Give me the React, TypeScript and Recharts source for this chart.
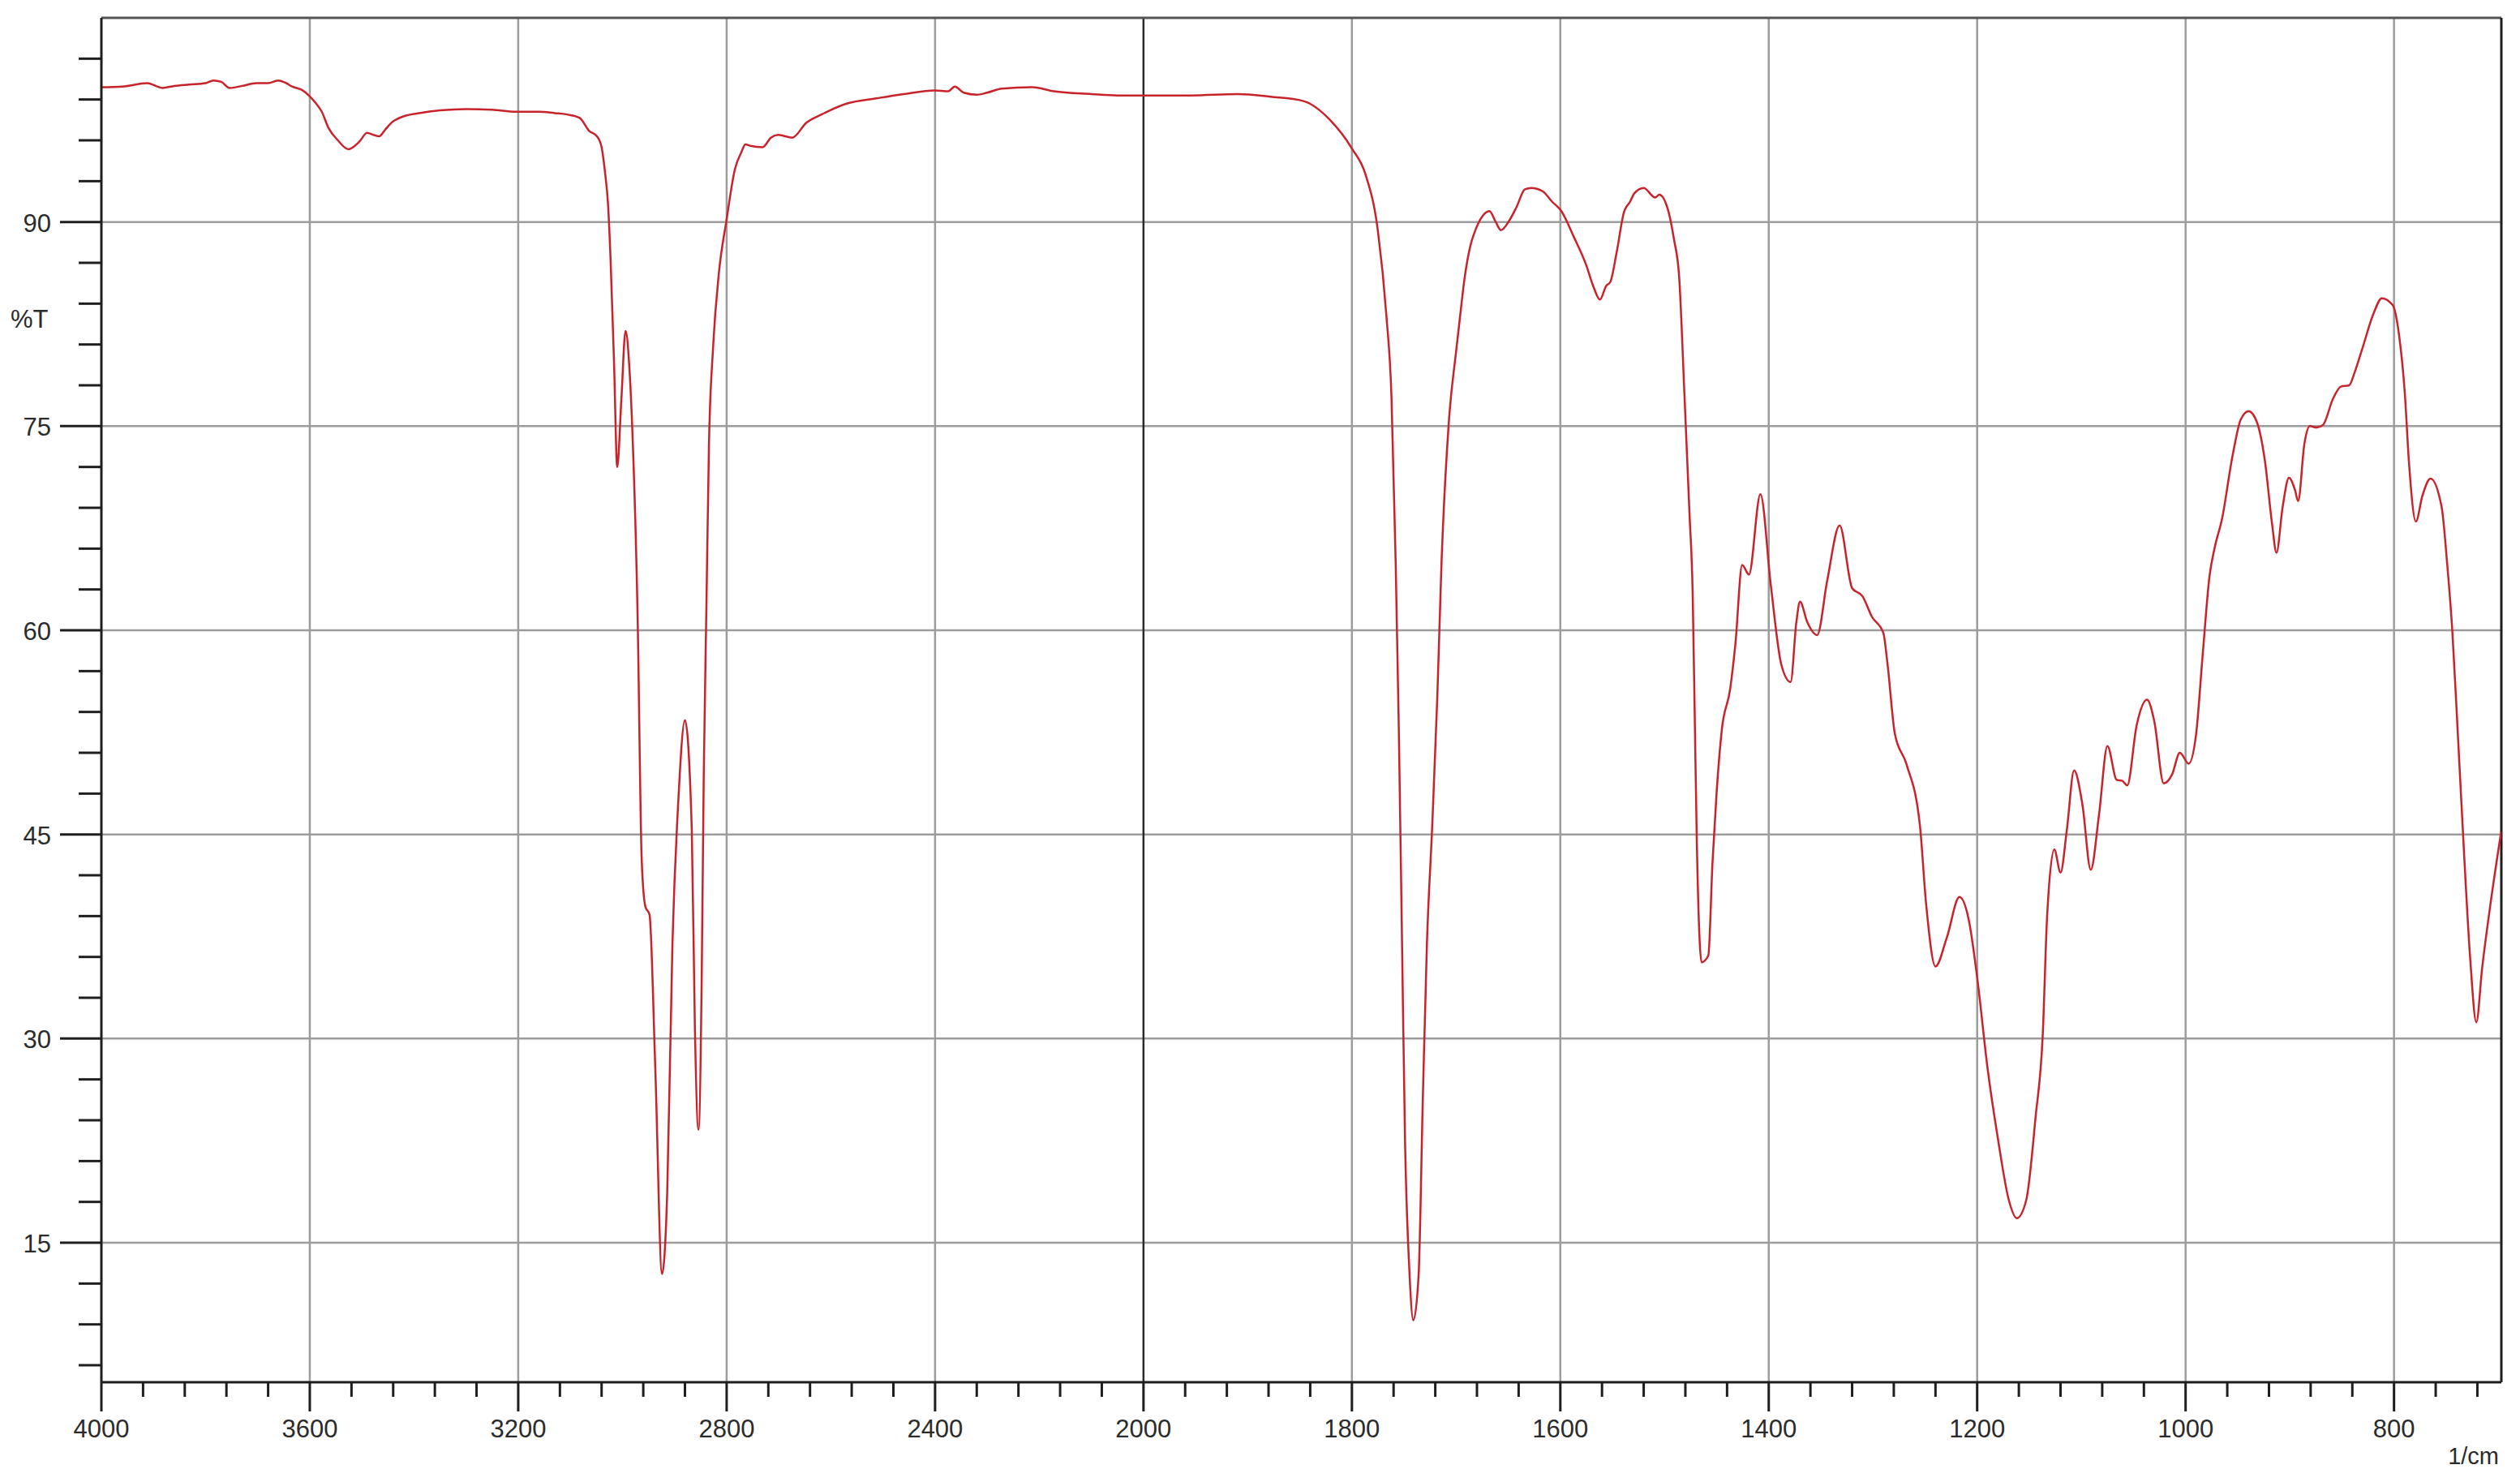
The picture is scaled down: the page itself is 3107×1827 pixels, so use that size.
import { Line, LineChart, ReferenceLine, XAxis, YAxis } from 'recharts';

// IR spectrum, wavenumber (1/cm) vs transmittance (%T)
const wavenumbers = [
  4000, 3960, 3912, 3883, 3860, 3832, 3800, 3785, 3770, 3754, 3730, 3702, 3680, 3661, 3645, 3634,
  3615, 3602, 3590, 3577, 3564, 3546, 3526, 3505, 3490, 3478, 3467, 3455, 3443, 3417, 3390, 3350,
  3300, 3250, 3204, 3160, 3130, 3106, 3082, 3064, 3049, 3040, 3033, 3028, 3023, 3016, 3010, 3002,
  2994, 2987, 2981, 2971, 2963, 2956, 2948, 2937, 2924, 2914, 2904, 2893, 2880, 2867, 2861, 2854,
  2848, 2844, 2839, 2834, 2826, 2815, 2800, 2784, 2772, 2764, 2755, 2731, 2715, 2701, 2674, 2647,
  2618, 2570, 2510, 2460, 2400, 2375, 2362, 2345, 2320, 2300, 2272, 2213, 2172, 2100, 2050, 2000,
  1955, 1909, 1878, 1847, 1821, 1800, 1787, 1775, 1767, 1762, 1758, 1755, 1752, 1749, 1745, 1741,
  1736, 1732, 1728, 1723, 1718, 1714, 1707, 1700, 1696, 1692, 1686, 1682, 1675, 1668, 1662, 1657,
  1649, 1642, 1634, 1628, 1617, 1608, 1599, 1587, 1575, 1568, 1562, 1556, 1552, 1546, 1539, 1533,
  1529, 1520, 1509, 1505, 1496, 1491, 1486, 1481, 1476, 1473, 1471, 1469, 1466.5, 1464.5, 1458, 1454,
  1450, 1445, 1437, 1432, 1425.5, 1419, 1408, 1398, 1388, 1379, 1373.5, 1370, 1363, 1353.5, 1344, 1332,
  1320, 1310, 1301, 1290, 1286, 1279, 1268, 1255, 1249, 1240, 1229, 1217, 1208, 1200, 1190, 1180,
  1169.5, 1162, 1153, 1144, 1137, 1133, 1126, 1120, 1114, 1107, 1099, 1091, 1083, 1075, 1066, 1061,
  1056, 1047, 1037, 1030, 1021, 1013, 1005.5, 997, 990, 983.6, 977, 972, 965, 955, 947, 939.5,
  931.6, 923.8, 917, 912.8, 906.8, 900.8, 895, 892, 886, 880.8, 874, 868, 858.6, 851, 843, 838,
  830, 819.5, 811.7, 801.3, 795, 789.6, 785.7, 779, 772.7, 765, 754.4, 749, 744, 739, 733.6, 727,
  721, 715.4, 707.6, 697.2,
];

const transmittance = [
  99.9, 99.95, 100.2, 99.85, 100.0, 100.1, 100.2, 100.4, 100.3, 99.85, 100.0, 100.2, 100.2, 100.4, 100.2, 99.95,
  99.7, 99.3, 98.8, 98.1, 96.9, 96.0, 95.35, 95.9, 96.55, 96.4, 96.3, 96.8, 97.3, 97.8, 98.0, 98.2,
  98.3, 98.25, 98.1, 98.1, 98.0, 97.9, 97.65, 96.7, 96.3, 95.5, 93.5, 91.5, 87.5, 79.5, 72.0, 77.0,
  82.0, 79.5, 74.7, 61.3, 43.1, 39.7, 39.1, 27.9, 12.7, 18.75, 37.0, 47.3, 53.4, 45.5, 30.9, 23.3,
  34.0, 49.2, 61.3, 73.5, 80.8, 86.2, 90.2, 93.9, 95.1, 95.7, 95.6, 95.5, 96.2, 96.4, 96.2, 97.3,
  97.9, 98.7, 99.1, 99.4, 99.67, 99.6, 99.95, 99.5, 99.35, 99.5, 99.8, 99.9, 99.6, 99.4, 99.3, 99.3,
  99.3, 99.4, 99.2, 98.9, 97.5, 95.4, 93.5, 89.3, 83.2, 77.1, 65.0, 52.8, 37.6, 22.4, 13.2, 9.3,
  12.6, 25.4, 37.0, 45.5, 55.2, 65.0, 75.3, 80.5, 83.2, 85.8, 88.35, 89.3, 90.4, 90.8, 90.0, 89.4,
  90.1, 91.1, 92.4, 92.5, 92.26, 91.5, 90.8, 88.9, 86.8, 85.2, 84.3, 85.3, 85.6, 87.75, 90.7, 91.5,
  92.1, 92.5, 91.8, 92.0, 90.7, 88.75, 86.0, 77.5, 68.5, 62.7, 53.6, 44.4, 37.5, 35.6, 36.1, 42.9,
  48.1, 52.7, 55.7, 59.0, 64.8, 64.1, 70.0, 63.3, 57.5, 56.2, 60.6, 62.1, 60.6, 59.65, 63.6, 67.7,
  63.1, 62.5, 61.0, 59.8, 57.5, 52.4, 50.2, 45.7, 39.9, 35.3, 37.45, 40.4, 38.7, 34.5, 27.8, 22.6,
  18.1, 16.8, 18.1, 24.2, 30.4, 38.8, 43.9, 42.2, 45.3, 49.7, 47.2, 42.4, 46.5, 51.5, 49.0, 48.95,
  48.6, 53.0, 54.9, 53.3, 48.75, 49.4, 51.0, 50.2, 52.3, 58.2, 64.0, 66.1, 68.2, 72.8, 75.5, 76.1,
  75.3, 72.4, 67.8, 65.7, 69.1, 71.2, 70.3, 69.5, 73.7, 75.0, 74.9, 75.1, 77.0, 77.9, 78.0, 78.9,
  80.8, 83.3, 84.4, 83.9, 81.6, 77.4, 72.4, 68.0, 69.9, 71.15, 69.1, 64.9, 59.9, 52.75, 44.8, 36.0,
  31.2, 35.2, 39.8, 45.2,
];

const xLabels = [4000, 3600, 3200, 2800, 2400, 2000, 1800, 1600, 1400, 1200, 1000, 800];
const yLabels = [15, 30, 45, 60, 75, 90];

// the x axis is compressed by 2 above 2000 1/cm
const BREAK = 2000;
const toT = (wn: number) => (wn > BREAK ? BREAK + (wn - BREAK) / 2 : wn);
const fromT = (t: number) => (t > BREAK ? BREAK + (t - BREAK) * 2 : t);

const X_MIN = 697;
const X_MAX = 4000;
const Y_MIN = 4.75;
const Y_MAX = 105;

const data = wavenumbers.map((wn, i) => ({ t: toT(wn), y: transmittance[i] }));

const xTicks: number[] = [];
for (let t = toT(X_MAX); t >= 720; t -= 40) xTicks.push(t);
const yTicks: number[] = [];
for (let v = 6; v <= 102; v += 3) yTicks.push(v);

const FONT = '"Liberation Sans", Arial, sans-serif';
const INK = '#1e1e1e';
const TEXT = '#2b2b2b';
const GRID = '#9c9c9c';

function XTick(props: any) {
  const { x, y, payload } = props;
  const wn = Math.round(fromT(payload.value));
  const major = xLabels.includes(wn);
  return (
    <g>
      <line x1={x} x2={x} y1={y} y2={y + (major ? 36 : 18)} stroke={INK} strokeWidth={3} />
      {major && (
        <text x={x} y={y + 68} textAnchor="middle" fontSize={31} fill={TEXT} fontFamily={FONT}>
          {wn}
        </text>
      )}
    </g>
  );
}

function YTick(props: any) {
  const { x, y, payload } = props;
  const major = yLabels.includes(payload.value);
  return (
    <g>
      <line x1={x - (major ? 51 : 28)} x2={x} y1={y} y2={y} stroke={INK} strokeWidth={3} />
      {major && (
        <text x={x - 62} y={y + 12} textAnchor="end" fontSize={31} fill={TEXT} fontFamily={FONT}>
          {payload.value}
        </text>
      )}
    </g>
  );
}

export default function App() {
  return (
    <div style={{ position: 'absolute', left: 0, top: 0, width: 3107, height: 1827, background: '#fff' }}>
      <LineChart width={3107} height={1827} data={data} margin={{ top: 22, right: 23, bottom: 0, left: 0 }}>
        <XAxis
          dataKey="t"
          type="number"
          domain={[toT(X_MIN), toT(X_MAX)]}
          reversed
          allowDataOverflow
          ticks={xTicks}
          interval={0}
          height={123}
          tickSize={0}
          tickMargin={0}
          tickLine={false}
          axisLine={{ stroke: INK, strokeWidth: 3 }}
          tick={(p: any) => <XTick {...p} />}
        />
        <YAxis
          type="number"
          domain={[Y_MIN, Y_MAX]}
          allowDataOverflow
          ticks={yTicks}
          interval={0}
          width={125}
          tickSize={0}
          tickMargin={0}
          tickLine={false}
          axisLine={{ stroke: INK, strokeWidth: 3 }}
          tick={(p: any) => <YTick {...p} />}
        />
        {yLabels.map(v => (
          <ReferenceLine key={'h' + v} y={v} stroke={GRID} strokeWidth={2.5} />
        ))}
        {xLabels.slice(1).map(wn => (
          <ReferenceLine
            key={'v' + wn}
            x={toT(wn)}
            stroke={wn === BREAK ? '#2a2a2a' : GRID}
            strokeWidth={2.5}
          />
        ))}
        <ReferenceLine y={Y_MAX} stroke="#555" strokeWidth={3} />
        <ReferenceLine x={toT(X_MIN)} stroke={INK} strokeWidth={3} />
        <Line
          type="monotone"
          dataKey="y"
          stroke="#c8232b"
          strokeWidth={2.5}
          dot={false}
          activeDot={false}
          isAnimationActive={false}
        />
      </LineChart>
      <div
        style={{
          position: 'absolute',
          left: 13,
          top: 376,
          fontSize: 31,
          fontFamily: FONT,
          color: TEXT,
          lineHeight: '36px',
        }}
      >
        %T
      </div>
      <div
        style={{
          position: 'absolute',
          right: 3107 - 3081,
          top: 1778,
          fontSize: 29,
          fontFamily: FONT,
          color: TEXT,
          lineHeight: '34px',
        }}
      >
        1/cm
      </div>
    </div>
  );
}
